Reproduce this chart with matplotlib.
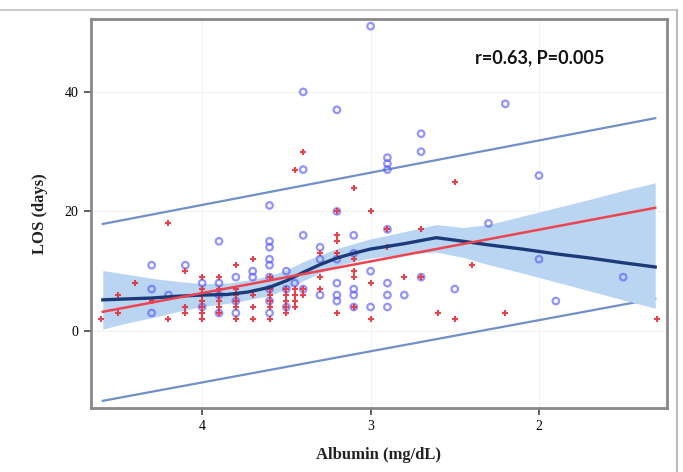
import matplotlib
matplotlib.use("Agg")
import matplotlib.pyplot as plt
from matplotlib.lines import Line2D

# ---------------- data ----------------
blue_x = [4.3, 4.3, 4.3, 4.2, 4.1, 4.0, 4.0,
          3.9, 3.9, 3.9, 3.9, 3.8, 3.8, 3.8, 3.7, 3.7,
          3.6, 3.6, 3.6, 3.6, 3.6, 3.6, 3.6, 3.6, 3.6,
          3.5, 3.5, 3.5, 3.45, 3.4, 3.4, 3.4, 3.4,
          3.3, 3.3, 3.3, 3.2, 3.2, 3.2, 3.2, 3.2, 3.2,
          3.1, 3.1, 3.1, 3.1, 3.1, 3.0, 3.0, 3.0,
          2.9, 2.9, 2.9, 2.9, 2.9, 2.9, 2.9, 2.8,
          2.7, 2.7, 2.7, 2.5, 2.3, 2.2, 2.0, 2.0, 1.9, 1.5]
blue_y = [11, 7, 3, 6, 11, 8, 4,
          15, 8, 6, 3, 9, 5, 3, 10, 9,
          21, 15, 14, 12, 11, 9, 7, 5, 3,
          10, 7, 4, 8, 40, 27, 16, 7,
          14, 12, 6, 37, 20, 12, 8, 6, 5,
          16, 13, 7, 6, 4, 51, 10, 4,
          29, 28, 27, 17, 8, 6, 4, 6,
          33, 30, 9, 7, 18, 38, 26, 12, 5, 9]

red_x = [4.6, 4.5, 4.5, 4.4, 4.3, 4.2, 4.2, 4.1, 4.1, 4.1,
         4.0, 4.0, 4.0, 4.0, 4.0, 4.0, 4.0,
         3.9, 3.9, 3.9, 3.9, 3.9, 3.9,
         3.8, 3.8, 3.8, 3.8, 3.8, 3.8,
         3.7, 3.7, 3.7, 3.7,
         3.6, 3.6, 3.6, 3.6, 3.6, 3.6,
         3.5, 3.5, 3.5, 3.5, 3.5,
         3.45, 3.45, 3.45, 3.45, 3.45,
         3.4, 3.4, 3.4, 3.3, 3.3, 3.3,
         3.2, 3.2, 3.2, 3.2, 3.2,
         3.1, 3.1, 3.1, 3.1, 3.1,
         3.0, 3.0, 3.0, 2.9, 2.9, 2.8, 2.7, 2.7, 2.6,
         2.5, 2.5, 2.4, 2.2, 1.3]
red_y = [2, 6, 3, 8, 5, 18, 2, 10, 4, 3,
         9, 7, 6, 5, 4, 3, 2,
         9, 7, 6, 5, 4, 3,
         11, 7, 6, 5, 4, 2,
         12, 6, 4, 2,
         9, 7, 6, 5, 4, 2,
         7, 6, 5, 4, 3,
         27, 7, 6, 5, 4,
         30, 7, 6, 13, 9, 7,
         20, 16, 15, 13, 3,
         24, 12, 10, 9, 4,
         20, 8, 2, 17, 14, 9, 17, 9, 3,
         25, 2, 11, 3, 2]

# linear fit and prediction limits (end points)
fit_x = [4.59, 1.31]
fit_y = [3.2, 20.6]
pred_upper_y = [17.9, 35.6]
pred_lower_y = [-11.7, 5.4]

# loess curve with confidence band
band_x = [4.59, 4.45, 4.3, 4.15, 4.0, 3.85, 3.73, 3.6, 3.5, 3.4, 3.3, 3.2,
          3.1, 3.0, 2.8, 2.61, 2.45, 2.3, 2.1, 1.9, 1.7, 1.5, 1.31]
loess_y = [5.2, 5.35, 5.5, 5.8, 6.0, 6.1, 6.5, 7.3, 8.4, 9.8, 11.1, 12.2,
           13.0, 13.7, 14.6, 15.6, 15.0, 14.4, 13.7, 12.9, 12.2, 11.4, 10.7]
band_upper = [10.1, 9.5, 8.8, 8.3, 7.9, 8.0, 8.5, 9.2, 10.2, 11.6, 12.7, 13.8,
              14.6, 15.4, 16.6, 17.8, 17.3, 17.8, 19.2, 20.6, 22.0, 23.5, 24.8]
band_lower = [0.3, 1.3, 2.2, 3.2, 4.1, 4.6, 5.2, 5.9, 7.0, 8.4, 9.7, 10.9,
              11.6, 12.2, 12.8, 13.2, 12.3, 11.1, 9.7, 8.2, 6.7, 5.2, 3.8]

x_ticks = [4, 3, 2]
y_ticks = [0, 20, 40]
annotation = "r=0.63, P=0.005"
x_label = "Albumin (mg/dL)"
y_label = "LOS (days)"

# ---------------- figure ----------------
fig = plt.figure(figsize=(6.83, 4.72), dpi=100)
ax = fig.add_axes([91 / 683, 1 - 408 / 472, (667 - 91) / 683, (408 - 19) / 472])

ax.plot(fit_x, pred_upper_y, color="#7090c8", lw=1.6, zorder=2)
ax.plot(fit_x, pred_lower_y, color="#7090c8", lw=1.6, zorder=2)
ax.fill_between(band_x, band_lower, band_upper, color="#b9d5f2", lw=0, zorder=3)

ax.scatter(blue_x, blue_y, s=22, facecolors="none", edgecolors="#5a5aff",
           linewidths=1.6, alpha=0.65, zorder=4)
ax.scatter(red_x, red_y, s=16, marker="+", color="#e0303a",
           linewidths=1.5, alpha=0.9, zorder=5)

ax.plot(band_x, loess_y, color="#1d3a78", lw=2.4, zorder=6)
ax.plot(fit_x, fit_y, color="#ee4450", lw=1.8, zorder=7)

ax.set_xlim(4.66, 1.24)
ax.set_ylim(-12.9, 52.2)
ax.set_xticks(x_ticks)
ax.set_yticks(y_ticks)
ax.set_xticklabels([str(v) for v in x_ticks], family="Liberation Serif", fontsize=10)
ax.set_yticklabels([str(v) for v in y_ticks], family="Liberation Serif", fontsize=10)
ax.tick_params(direction="out", length=5, width=1.2, color="#444444", pad=4)
ax.grid(True, color="#f2f2f2", lw=0.8, zorder=0)
ax.set_axisbelow(True)
for sp in ax.spines.values():
    sp.set_color("#888888")
    sp.set_linewidth(2)

ax.set_xlabel(x_label, family="Liberation Serif", fontsize=12, fontweight="bold",
              color="#222222", labelpad=10)
ax.set_ylabel(y_label, family="Liberation Serif", fontsize=12, fontweight="bold",
              color="#222222", labelpad=12)

ax.text(0.667, 0.9, annotation, transform=ax.transAxes, family="Lato",
        fontsize=13, fontweight="bold", color="#111111", va="center", ha="left")

# outer image border lines
fig.add_artist(Line2D([0, 677 / 683], [1 - 10 / 472, 1 - 10 / 472],
                      transform=fig.transFigure, color="#cccccc", lw=1.5))
fig.add_artist(Line2D([677 / 683, 677 / 683], [0, 1 - 10 / 472],
                      transform=fig.transFigure, color="#bbbbbb", lw=1.5))

fig.savefig("out.png", dpi=100)
